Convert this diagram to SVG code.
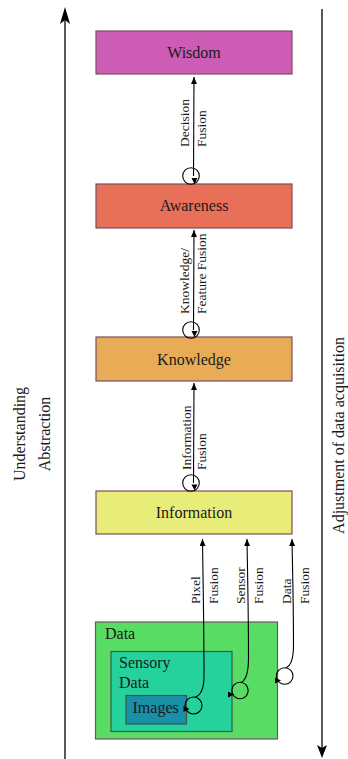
<svg xmlns="http://www.w3.org/2000/svg" width="348" height="759" viewBox="0 0 348 759">
<style>
.lbl{font-family:"Liberation Serif","Times New Roman",serif;font-size:16px;fill:#1a1a1a}
.lbl-mid{text-anchor:middle}
.al{font-family:"Liberation Serif","Times New Roman",serif;font-size:13.5px;fill:#1a1a1a}
.box{stroke:#7b4f62;stroke-width:1.2}
.inner{stroke:#3c5650;stroke-width:1.2}
.conn{fill:none;stroke:#000;stroke-width:1.1}
.loop{fill:none;stroke:#000;stroke-width:1.1}
.axis{stroke:#000;stroke-width:1.3;fill:none}
</style>
<defs>
<marker id="tip" markerUnits="userSpaceOnUse" markerWidth="7" markerHeight="6" refX="7" refY="3" orient="auto">
<path d="M0,0 L7,3 L0,6 z" fill="#000"/>
</marker>
<polygon id="tri" points="0,0 -6,-3 -6,3" fill="#000"/>
</defs>

<g id="axes">
<line class="axis" x1="65" y1="759" x2="65" y2="18"/>
<polygon points="65,7 60,24 65,20 70,24" fill="#000"/>
<line class="axis" x1="322" y1="9" x2="322" y2="750"/>
<polygon points="322,758 317,745 322,748 327,745" fill="#000"/>
</g>

<g id="side-left">
<text class="lbl lbl-mid" transform="translate(25,434) rotate(-90)">Understanding</text>
<text class="lbl lbl-mid" transform="translate(50,434) rotate(-90)">Abstraction</text>
</g>
<g id="side-right">
<text class="lbl lbl-mid" transform="translate(344,435.5) rotate(-90)">Adjustment of data acquisition</text>
</g>

<g id="wisdom">
<rect class="box" x="96" y="31" width="196" height="43" fill="#cc5cb4"/>
<text class="lbl lbl-mid" x="194" y="57.5">Wisdom</text>
</g>
<g id="awareness">
<rect class="box" x="96" y="184" width="196" height="44" fill="#e87058"/>
<text class="lbl lbl-mid" x="194" y="211">Awareness</text>
</g>
<g id="knowledge">
<rect class="box" x="96" y="337" width="196" height="44" fill="#e8ac56"/>
<text class="lbl lbl-mid" x="194" y="364.5">Knowledge</text>
</g>
<g id="information">
<rect class="box" x="96" y="491" width="196" height="43" fill="#e8ec78"/>
<text class="lbl lbl-mid" x="194" y="518">Information</text>
</g>

<g id="data">
<rect class="box" x="95.5" y="622" width="182" height="117" fill="#58dc64"/>
<text class="lbl" x="105" y="639">Data</text>
</g>
<g id="sensory-data">
<rect class="inner" x="111" y="651.5" width="121" height="80" fill="#26d29c"/>
<text class="lbl" x="119" y="668">Sensory</text>
<text class="lbl" x="119" y="688">Data</text>
</g>
<g id="images">
<rect class="inner" x="126" y="695.5" width="60.5" height="28.5" fill="#1890a8"/>
<text class="lbl" x="132.5" y="713">Images</text>
</g>

<g id="connectors">
<path class="conn" d="M193.5,176 L194,77" marker-end="url(#tip)"/>
<circle class="loop" cx="191" cy="176" r="8.3"/>
<use href="#tri" transform="translate(194.5,184) rotate(90)"/>

<path class="conn" d="M193.5,330 L194,230" marker-end="url(#tip)"/>
<circle class="loop" cx="191" cy="330" r="8.3"/>
<use href="#tri" transform="translate(194.5,337) rotate(90)"/>

<path class="conn" d="M193.5,483 L194,383" marker-end="url(#tip)"/>
<circle class="loop" cx="191" cy="483" r="8.3"/>
<use href="#tri" transform="translate(194.5,490.5) rotate(90)"/>

<path class="conn" d="M195,697.2 C200.5,695.5 204,690 204,676 C204,625 203,580 202.5,539" marker-end="url(#tip)"/>
<circle class="loop" cx="193.5" cy="705.5" r="8.5"/>
<use href="#tri" transform="translate(189.5,709)"/>

<path class="conn" d="M241,682.5 C246.5,680 248.5,672 248.5,658 C248.5,612 247.5,572 247,539" marker-end="url(#tip)"/>
<circle class="loop" cx="240" cy="690.5" r="8.2"/>
<use href="#tri" transform="translate(234,694.5)"/>

<path class="conn" d="M286,667.8 C291.5,665.5 293.5,658 293.5,645 C293.5,600 292.5,570 292,539" marker-end="url(#tip)"/>
<circle class="loop" cx="284.7" cy="676" r="8.3"/>
<use href="#tri" transform="translate(281,680.5)"/>
</g>

<g id="connector-labels">
<text class="al" transform="translate(189,147) rotate(-90)">Decision</text>
<text class="al" transform="translate(206,147) rotate(-90)">Fusion</text>
<text class="al" transform="translate(189,314) rotate(-90)">Knowledge/</text>
<text class="al" transform="translate(206,314) rotate(-90)">Feature Fusion</text>
<text class="al" transform="translate(190.5,470) rotate(-90)">Information</text>
<text class="al" transform="translate(206,470) rotate(-90)">Fusion</text>
<text class="al" transform="translate(199.5,604) rotate(-90)">Pixel</text>
<text class="al" transform="translate(218,604) rotate(-90)">Fusion</text>
<text class="al" transform="translate(245,604) rotate(-90)">Sensor</text>
<text class="al" transform="translate(263,604) rotate(-90)">Fusion</text>
<text class="al" transform="translate(290.5,604) rotate(-90)">Data</text>
<text class="al" transform="translate(308.5,604) rotate(-90)">Fusion</text>
</g>
</svg>
